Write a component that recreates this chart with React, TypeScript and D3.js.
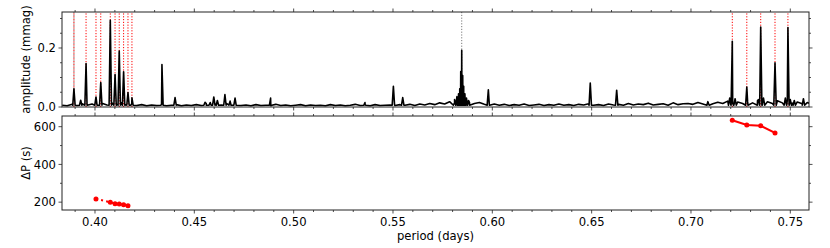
import * as d3 from "d3"

// periodogram: narrow peaks (period in days, amplitude in mmag)
const peakPeriods = [
  0.3894, 0.3928, 0.3955, 0.4005, 0.4029, 0.4077, 0.4101, 0.4122, 0.4144, 0.4166, 0.4186,
  0.4337, 0.4403, 0.4554, 0.458, 0.4598, 0.4616, 0.4654, 0.468, 0.4705, 0.4884, 0.5359,
  0.5502, 0.5549, 0.581, 0.5822, 0.583, 0.5836, 0.5841, 0.5846, 0.5851, 0.5856, 0.5862,
  0.587, 0.588, 0.598, 0.6493, 0.6626, 0.7086, 0.7195, 0.7208, 0.7222, 0.7281, 0.734,
  0.7351, 0.7365, 0.7423, 0.7475, 0.7488, 0.75, 0.752, 0.7566,
]
const peakAmps = [
  0.062, 0.023, 0.147, 0.034, 0.083, 0.294, 0.11, 0.19, 0.119, 0.049, 0.031,
  0.144, 0.032, 0.016, 0.015, 0.034, 0.022, 0.042, 0.02, 0.03, 0.03, 0.015,
  0.07, 0.032, 0.025, 0.035, 0.045, 0.062, 0.12, 0.192, 0.107, 0.07, 0.045,
  0.03, 0.022, 0.058, 0.081, 0.057, 0.015, 0.03, 0.223, 0.028, 0.068, 0.025,
  0.271, 0.03, 0.15, 0.03, 0.269, 0.025, 0.022, 0.028,
]

// noise floor, sampled every 0.0025 d from 0.3835
const noiseStart = 0.3835
const noiseStep = 0.0025
const noiseAmps = [
  0.006, 0.004, 0.009, 0.005, 0.011, 0.006, 0.01, 0.008, 0.013, 0.007,
  0.014, 0.009, 0.015, 0.008, 0.011, 0.005, 0.008, 0.004, 0.007, 0.005,
  0.009, 0.004, 0.006, 0.008, 0.004, 0.007, 0.005, 0.008, 0.005, 0.012,
  0.006, 0.01, 0.007, 0.013, 0.006, 0.009, 0.005, 0.007, 0.004, 0.008,
  0.005, 0.006, 0.004, 0.009, 0.005, 0.007, 0.004, 0.006, 0.008, 0.004,
  0.007, 0.005, 0.006, 0.004, 0.008, 0.005, 0.007, 0.004, 0.006, 0.009,
  0.005, 0.007, 0.004, 0.008, 0.005, 0.006, 0.007, 0.005, 0.008, 0.006,
  0.009, 0.005, 0.01, 0.007, 0.012, 0.008, 0.014, 0.01, 0.018, 0.014,
  0.024, 0.02, 0.016, 0.012, 0.015, 0.009, 0.007, 0.01, 0.006, 0.009,
  0.005, 0.008, 0.006, 0.01, 0.005, 0.007, 0.009, 0.005, 0.008, 0.006,
  0.01, 0.006, 0.008, 0.005, 0.009, 0.007, 0.011, 0.006, 0.008, 0.005,
  0.01, 0.007, 0.009, 0.006, 0.012, 0.007, 0.01, 0.008, 0.013, 0.007,
  0.009, 0.011, 0.006, 0.014, 0.008, 0.011, 0.012, 0.009, 0.015, 0.01,
  0.018, 0.011, 0.016, 0.012, 0.02, 0.013, 0.017, 0.012, 0.019, 0.014,
  0.022, 0.013, 0.018, 0.012, 0.021, 0.014, 0.024, 0.013, 0.017, 0.011,
  0.015, 0.01,
]

// identified modes (dotted verticals)
const redModes = [
  0.3894, 0.3955, 0.4005, 0.4029, 0.4077, 0.4101, 0.4122, 0.4144, 0.4166, 0.4186,
  0.7208, 0.7281, 0.7351, 0.7423, 0.7488,
]
const grayModes = [0.3894, 0.5846]

// period spacing
const dpLeftPeriods = [0.4005, 0.4077, 0.4101, 0.4122, 0.4144, 0.4166]
const dpLeftValues = [217, 200, 191, 190, 186, 181]
const dpRightPeriods = [0.7208, 0.7281, 0.7351, 0.7423]
const dpRightValues = [634, 609, 605, 567]

// ticks
const periodTicks = [0.4, 0.45, 0.5, 0.55, 0.6, 0.65, 0.7, 0.75]
const periodMinor = [
  0.39, 0.41, 0.42, 0.43, 0.44, 0.46, 0.47, 0.48, 0.49, 0.51, 0.52, 0.53, 0.54, 0.56, 0.57,
  0.58, 0.59, 0.61, 0.62, 0.63, 0.64, 0.66, 0.67, 0.68, 0.69, 0.71, 0.72, 0.73, 0.74,
]
const ampTicks = [0, 0.2]
const ampMinor = [0.05, 0.1, 0.15, 0.25, 0.3]
const dpTicks = [200, 400, 600]
const dpMinor = [300, 500]

const W = 830
const H = 248
const L = 62
const R = 809
const FONT = "DejaVu Sans"
const FS = 11.6
const AX = "#222"

const x = d3.scaleLinear().domain([0.38339, 0.75941]).range([L, R])
const yAmp = d3.scaleLinear().domain([0, 0.322]).range([107, 12])
const yDp = d3.scaleLinear().domain([158.4, 656.6]).range([210, 116])

function Frame({ y, yMajor, yMinorTicks, yFmt, xLabels }: any) {
  const [y1, y0] = y.range()
  const maj = 3.5
  const mn = 2
  return (
    <g stroke={AX} strokeWidth={0.8}>
      {periodTicks.map((t) => (
        <g key={"M" + t}>
          <line x1={x(t)} x2={x(t)} y1={y1} y2={y1 + maj} />
          <line x1={x(t)} x2={x(t)} y1={y0} y2={y0 - maj} />
        </g>
      ))}
      {periodMinor.map((t) => (
        <g key={"m" + t}>
          <line x1={x(t)} x2={x(t)} y1={y1} y2={y1 + mn} />
          <line x1={x(t)} x2={x(t)} y1={y0} y2={y0 - mn} />
        </g>
      ))}
      {yMajor.map((t: number) => (
        <g key={"yM" + t}>
          <line x1={L} x2={L - maj} y1={y(t)} y2={y(t)} />
          <line x1={R} x2={R + maj} y1={y(t)} y2={y(t)} />
          <text
            x={L - 6}
            y={y(t)}
            dy="0.36em"
            textAnchor="end"
            stroke="none"
            fill="#000"
            fontSize={FS}
            fontFamily={FONT}
          >
            {yFmt(t)}
          </text>
        </g>
      ))}
      {yMinorTicks.map((t: number) => (
        <g key={"ym" + t}>
          <line x1={L} x2={L - mn} y1={y(t)} y2={y(t)} />
          <line x1={R} x2={R + mn} y1={y(t)} y2={y(t)} />
        </g>
      ))}
      {xLabels &&
        periodTicks.map((t) => (
          <text
            key={"xl" + t}
            x={x(t)}
            y={y1 + 16}
            textAnchor="middle"
            stroke="none"
            fill="#000"
            fontSize={FS}
            fontFamily={FONT}
          >
            {t.toFixed(2)}
          </text>
        ))}
      <rect x={L} y={y0} width={R - L} height={y1 - y0} fill="none" strokeWidth={1} />
    </g>
  )
}

export default function App() {
  // spectrum points: noise floor plus a narrow spike for each peak
  const pts: [number, number][] = noiseAmps.map((a, i) => [noiseStart + i * noiseStep, a])
  const hw = 0.0006
  peakPeriods.forEach((p, i) => {
    pts.push([p - hw, 0.006], [p, peakAmps[i]], [p + hw, 0.006])
  })
  pts.sort((a, b) => a[0] - b[0])

  const spec = d3
    .line<[number, number]>()
    .x((d) => x(d[0]))
    .y((d) => yAmp(d[1]))(pts)

  const leftPts = dpLeftPeriods.map((p, i) => [x(p), yDp(dpLeftValues[i])])
  const rightPts = dpRightPeriods.map((p, i) => [x(p), yDp(dpRightValues[i])])
  const poly = (a: number[][]) => d3.line()(a as [number, number][]) || ""

  return (
    <div style={{ position: "fixed", left: 0, top: 0 }}>
      <svg width={W} height={H} style={{ display: "block", background: "#fff" }}>
        <defs>
          <clipPath id="topclip">
            <rect x={L} y={12} width={R - L} height={95} />
          </clipPath>
          <clipPath id="botclip">
            <rect x={L} y={116} width={R - L} height={94} />
          </clipPath>
        </defs>

        {/* top panel */}
        <g clipPath="url(#topclip)">
          {grayModes.map((p) => (
            <line
              key={"g" + p}
              x1={x(p)}
              x2={x(p)}
              y1={12}
              y2={107}
              stroke="#7a7a7a"
              strokeWidth={1}
              strokeDasharray="1.2,1.6"
            />
          ))}
          {redModes.map((p) => (
            <line
              key={"r" + p}
              x1={x(p)}
              x2={x(p)}
              y1={12}
              y2={107}
              stroke="#ff0000"
              strokeWidth={1}
              strokeDasharray="1.2,1.6"
              strokeDashoffset={1.4}
            />
          ))}
          <path d={spec || ""} fill="none" stroke="#000" strokeWidth={1.6} strokeLinejoin="round" />
        </g>
        <Frame y={yAmp} yMajor={ampTicks} yMinorTicks={ampMinor} yFmt={(t: number) => t.toFixed(1)} xLabels={false} />

        {/* bottom panel */}
        <g clipPath="url(#botclip)">
          <path
            d={poly(leftPts.slice(0, 2))}
            fill="none"
            stroke="#ff0000"
            strokeWidth={2}
            strokeDasharray="2,3.2"
          />
          <path d={poly(leftPts.slice(1))} fill="none" stroke="#ff0000" strokeWidth={2} />
          <path d={poly(rightPts)} fill="none" stroke="#ff0000" strokeWidth={2} />
          {leftPts.concat(rightPts).map((d, i) => (
            <circle key={i} cx={d[0]} cy={d[1]} r={2.5} fill="#ff0000" />
          ))}
        </g>
        <Frame y={yDp} yMajor={dpTicks} yMinorTicks={dpMinor} yFmt={(t: number) => String(t)} xLabels={true} />

        {/* axis labels */}
        <text
          transform={`translate(30,59.5) rotate(-90)`}
          textAnchor="middle"
          fontSize={FS}
          fontFamily={FONT}
          fill="#000"
        >
          amplitude (mmag)
        </text>
        <text
          transform={`translate(30,163) rotate(-90)`}
          textAnchor="middle"
          fontSize={FS}
          fontFamily={FONT}
          fill="#000"
        >
          ΔP (s)
        </text>
        <text x={(L + R) / 2} y={240} textAnchor="middle" fontSize={FS} fontFamily={FONT} fill="#000">
          period (days)
        </text>
      </svg>
    </div>
  )
}
